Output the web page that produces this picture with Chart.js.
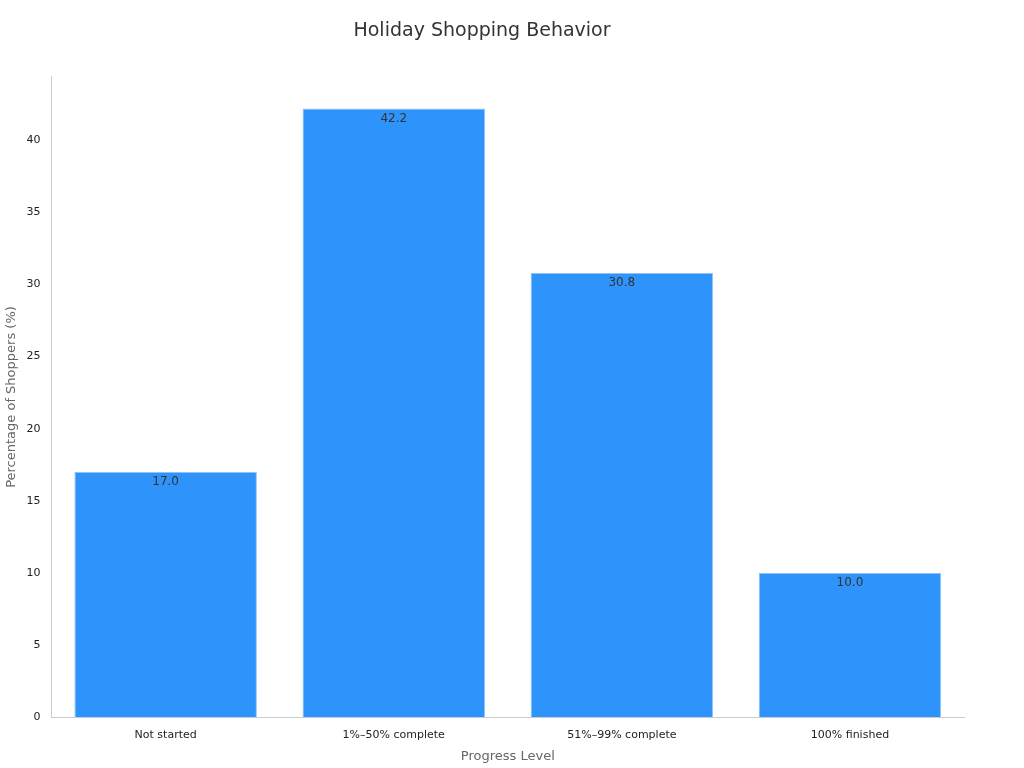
<!DOCTYPE html>
<html><head><meta charset="utf-8">
<script src="https://cdn.jsdelivr.net/npm/chart.js@4"></script>
<style>html,body{margin:0;padding:0;background:#fff}#w{width:1024px;height:768px}</style>
</head><body><div id="w"><canvas id="c"></canvas></div>
<script>
const categories = ["Not started", "1%–50% complete", "51%–99% complete", "100% finished"];
const values = [17.0, 42.2, 30.8, 10.0];
const yTicks = [0, 5, 10, 15, 20, 25, 30, 35, 40];

const labelPlugin = {
  id: 'vlabels',
  afterDatasetsDraw(chart) {
    const ctx = chart.ctx;
    const meta = chart.getDatasetMeta(0);
    ctx.save();
    ctx.font = '12px "DejaVu Sans"';
    ctx.fillStyle = '#333';
    ctx.textAlign = 'center';
    ctx.textBaseline = 'top';
    meta.data.forEach((b, i) => ctx.fillText(values[i].toFixed(1), b.x, b.y + 4));
    ctx.restore();
  }
};

new Chart(document.getElementById('c'), {
  type: 'bar',
  data: { labels: categories, datasets: [{ data: values, backgroundColor: '#2E93FA', borderColor: '#8EC3F5', borderWidth: 1, barPercentage: 0.8, categoryPercentage: 1 }] },
  options: {
    responsive: true, maintainAspectRatio: false, animation: false,
    layout: { padding: { top: 10, right: 60, left: 0, bottom: 0 } },
    plugins: {
      legend: { display: false }, tooltip: { enabled: false },
      title: { display: true, text: 'Holiday Shopping Behavior', color: '#333', font: { family: 'DejaVu Sans', size: 19, weight: 'normal' }, padding: { top: 10, bottom: 34 } }
    },
    scales: {
      x: {
        grid: { display: false, drawTicks: true }, border: { color: '#ccc' },
        ticks: { color: '#222', font: { family: 'DejaVu Sans', size: 11 } },
        title: { display: true, text: 'Progress Level', color: '#666', font: { family: 'DejaVu Sans', size: 13 } }
      },
      y: {
        min: 0, max: 44.4,
        afterBuildTicks: (s) => { s.ticks = yTicks.map(v => ({ value: v })); },
        grid: { display: false, drawTicks: true }, border: { color: '#ccc' },
        ticks: { color: '#222', font: { family: 'DejaVu Sans', size: 11 } },
        title: { display: true, text: 'Percentage of Shoppers (%)', color: '#666', font: { family: 'DejaVu Sans', size: 13 } }
      }
    }
  },
  plugins: [labelPlugin]
});
</script></body></html>
